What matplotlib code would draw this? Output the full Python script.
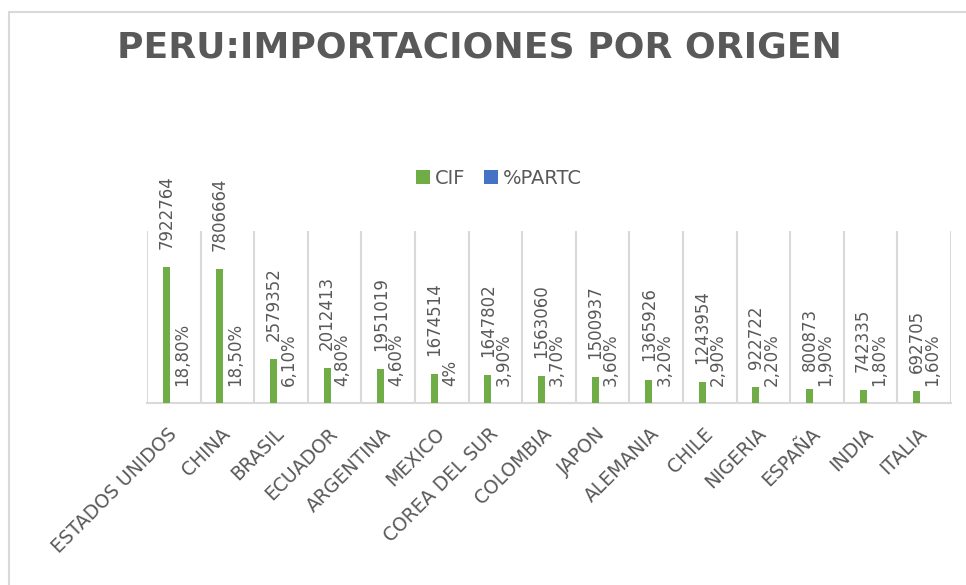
import numpy as np
import matplotlib
matplotlib.use("Agg")
import matplotlib.pyplot as plt
from matplotlib.patches import Rectangle

# ---- data ----
paises = ["ESTADOS UNIDOS", "CHINA", "BRASIL", "ECUADOR", "ARGENTINA", "MEXICO",
          "COREA DEL SUR", "COLOMBIA", "JAPON", "ALEMANIA", "CHILE", "NIGERIA",
          "ESPAÑA", "INDIA", "ITALIA"]
cif = [7922764, 7806664, 2579352, 2012413, 1951019, 1674514, 1647802, 1563060,
       1500937, 1365926, 1243954, 922722, 800873, 742335, 692705]
partc = [18.8, 18.5, 6.1, 4.8, 4.6, 4.0, 3.9, 3.7, 3.6, 3.2, 2.9, 2.2, 1.9, 1.8, 1.6]

GREEN = "#70AD47"
BLUE = "#4472C4"
TXT = "#595959"
GRID = "#D9D9D9"


def fmt_pct(v):
    s = f"{v:.2f}".replace(".", ",")
    if s.endswith(",00"):
        s = s[:-3]
    return s + "%"


W, H = 966, 585
fig = plt.figure(figsize=(W / 100, H / 100), dpi=100)

# chart border (Excel chart area)
fig.patches.append(Rectangle((9 / W, -0.1), 1.2, 1 - 12 / H + 0.1,
                             transform=fig.transFigure, fill=False,
                             edgecolor=GRID, linewidth=1.5))

ax = fig.add_axes([147 / W, 1 - 403 / H, (951 - 147) / W, (403 - 231) / H])

x = np.arange(len(paises))
bw = 0.13
b1 = ax.bar(x - 0.14, cif, width=bw, color=GREEN, label="CIF", zorder=3)
b2 = ax.bar(x + 0.15, [p / 100 for p in partc], width=bw, color=BLUE,
            label="%PARTC", zorder=3)

for rect, v in zip(b1, cif):
    ax.annotate(str(v), (rect.get_x() + rect.get_width() / 2, rect.get_height()),
                xytext=(0, 13), textcoords="offset points", rotation=90,
                ha="center", va="bottom", fontsize=12, color=TXT)
for rect, v in zip(b2, partc):
    ax.annotate(fmt_pct(v), (rect.get_x() + rect.get_width() / 2, rect.get_height()),
                xytext=(0, 12), textcoords="offset points", rotation=90,
                ha="center", va="bottom", fontsize=12, color=TXT)

ax.set_xlim(-0.5, len(paises) - 0.5)
ax.set_ylim(0, 10000000)

# category separators
ax.set_xticks(np.arange(-0.5, len(paises)), minor=True)
ax.grid(True, which="minor", axis="x", color=GRID, linewidth=1.5, zorder=0)
ax.set_xticks(x)
ax.set_xticklabels(paises, rotation=45, ha="right", va="center",
                   rotation_mode="anchor", fontsize=13.5, color=TXT)
ax.tick_params(axis="x", which="both", length=0, pad=20)
ax.set_yticks([])

for s in ["left", "top", "right"]:
    ax.spines[s].set_visible(False)
ax.spines["bottom"].set_color(GRID)
ax.spines["bottom"].set_linewidth(1.5)

# title
fig.text(479.5 / W, 1 - 57 / H, "PERU:IMPORTACIONES POR ORIGEN",
         ha="center", va="baseline", fontsize=26, fontweight="bold", color=TXT)

# legend
fig.legend(handles=[b1, b2], labels=["CIF", "%PARTC"], loc="center",
           bbox_to_anchor=(499 / W, 1 - 178.5 / H), ncol=2, frameon=False,
           fontsize=14, handlelength=0.7, handleheight=0.7, handletextpad=0.25,
           columnspacing=1.0, labelcolor=TXT)

fig.savefig("out.png", dpi=100)
